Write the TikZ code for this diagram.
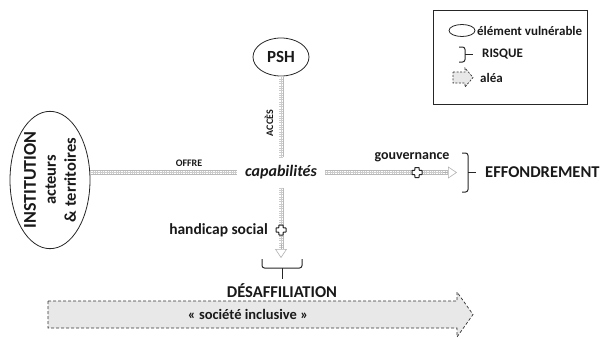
\documentclass[tikz,border=0pt]{standalone}
\usepackage{fontspec}
\setmainfont{Carlito}
\usetikzlibrary{shapes.geometric}
\usetikzlibrary{arrows.meta}

\newcommand{\fsz}[2]{\fontsize{#1}{#2}\selectfont\bfseries}

\tikzset{
  txt/.style={text=black!90, inner sep=1pt},
  vuln/.style={draw=black!85, ellipse, inner sep=0pt, line width=0.8pt, text=black!90},
  ladder/.style={draw=gray!55, line width=5pt,
    postaction={draw=white, line width=3.8pt},
    postaction={draw=gray!40, line width=3.8pt, dash pattern=on 0.5pt off 1.8pt},
    postaction={draw=gray!40, line width=0.4pt}},
  ladtip/.style={draw=gray!60, line width=0.6pt, -{Triangle[fill=white, length=9pt, width=12pt]}},
  bracket/.style={draw=black!85, line width=1pt, rounded corners=2.5pt},
  alea/.style={draw=black!80, fill=gray!18, line width=0.7pt, dash pattern=on 3pt off 2pt},
  hazard/.pic={\draw[black!85, fill=white, line width=1pt, rounded corners=0.5pt]
    (-2.2,-5) -- (2.2,-5) -- (2.2,-2.2) -- (5,-2.2) -- (5,2.2) -- (2.2,2.2) -- (2.2,5)
    -- (-2.2,5) -- (-2.2,2.2) -- (-5,2.2) -- (-5,-2.2) -- (-2.2,-2.2) -- cycle;}
}

\begin{document}
\begin{tikzpicture}[x=1pt, y=-1pt]
\useasboundingbox (0,0) rectangle (605,338);

\node [vuln, rotate=90, minimum width=116pt, minimum height=80pt, align=center, font=\fsz{16.5}{20}] (inst) at (50,180)
  {{\fontsize{18}{20}\selectfont INSTITUTION}\\acteurs\\\& territoires};
\node [vuln, minimum width=56pt, minimum height=38pt, font=\fsz{17}{20}] (psh) at (281,57) {PSH};
\node [txt, inner xsep=8pt, inner ysep=8pt, font=\fsz{16}{18}\itshape] (cap) at (281,172.5) {capabilités};

\coordinate (effend) at (457,172.5);
\coordinate (desend) at (281,258);

\draw [ladder] (inst.south |- cap.west) -- (cap.west);
\draw [ladder] (psh.south) -- (cap.north);
\draw [ladder, shorten >=9pt] (cap.east) -- (effend);
\draw [ladtip] ([xshift=-14pt]effend) -- (effend);
\draw [ladder, shorten >=9pt] (cap.south) -- (desend);
\draw [ladtip] ([yshift=14pt]desend) -- (desend);

\node [txt, font=\fsz{10}{12}] (offre) at (189,163) {OFFRE};
\node [txt, rotate=90, font=\fsz{10}{12}] (acces) at (269,123) {ACCÈS};

\pic at (417,172.5) {hazard};
\node [txt, font=\fsz{14}{16}] (gouv) at (412,157) {gouvernance};
\pic at (281,230) {hazard};
\node [txt, anchor=east, font=\fsz{15.5}{17}] (handi) at (269,230) {handicap social};

\draw [bracket] (462,153) -- (468,153) -- (468,192) -- (462,192);
\draw [bracket] (468,172.5) -- (476,172.5);
\node [txt, anchor=west, font=\fsz{16.5}{20}] (effond) at (484,172.5) {EFFONDREMENT};

\draw [bracket] (262,259) -- (262,268) -- (302,268) -- (302,259);
\draw [bracket] (282,268) -- (282,279);
\node [txt, font=\fsz{16.5}{18}] (desaff) at (282,291) {DÉSAFFILIATION};

\path [alea] (48,301) -- (457,301) -- (457,292) -- (473,314.5) -- (457,337) -- (457,328) -- (48,328) -- cycle;
\node [txt, font=\fsz{14.5}{16}] (inclus) at (248,314.5) {« société inclusive »};

\node [draw=black!85, line width=0.8pt, minimum width=154pt, minimum height=94pt] (legend) at (510,57) {};
\node [vuln, minimum width=26pt, minimum height=12pt] (legvuln) at (462,30.5) {};
\node [txt, anchor=west, font=\fsz{13}{15}] at (476,30.5) {élément vulnérable};
\draw [bracket] (459,47) -- (465,47) -- (465,62) -- (459,62);
\draw [bracket] (465,54.5) -- (473,54.5);
\node [txt, anchor=west, font=\fsz{13}{15}] at (481,54.5) {RISQUE};
\path [alea, dash pattern=on 2pt off 1.5pt] (453,72) -- (465,72) -- (465,68) -- (473,77.5) -- (465,87) -- (465,83) -- (453,83) -- cycle;
\node [txt, anchor=west, font=\fsz{13}{15}] at (479,77.5) {aléa};
\end{tikzpicture}
\end{document}
